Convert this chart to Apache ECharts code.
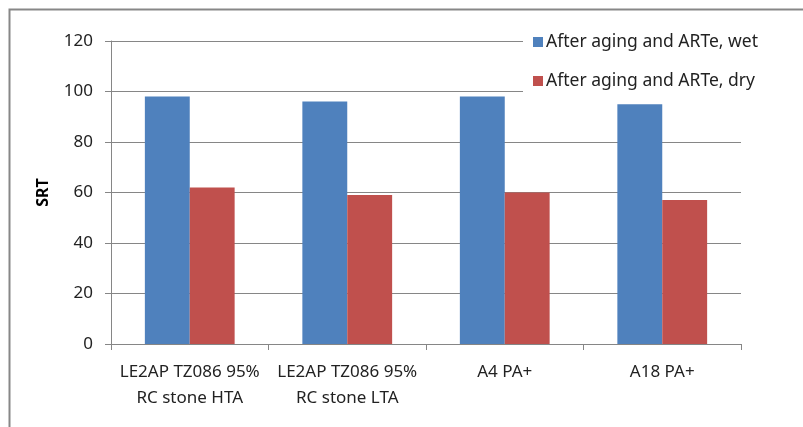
<!DOCTYPE html>
<html>
<head>
<meta charset="utf-8">
<script src="https://cdn.jsdelivr.net/npm/echarts@6/dist/echarts.min.js"></script>
<style>
  html, body { margin: 0; padding: 0; background: #fff; }
  #chart { width: 803px; height: 427px; }
</style>
</head>
<body>
<div id="chart"></div>
<script>
// 数据
const categories = ["LE2AP TZ086 95%\nRC stone HTA", "LE2AP TZ086 95%\nRC stone LTA", "A4 PA+", "A18 PA+"];
const seriesNames = ["After aging and ARTe, wet", "After aging and ARTe, dry"];
const wetValues = [98, 96, 98, 95];
const dryValues = [62, 59, 60, 57];
const yTicks = [0, 20, 40, 60, 80, 100, 120];

const font = "Noto Sans";
const chart = echarts.init(document.getElementById("chart"));

let option = {
  animation: false,
  textStyle: { fontFamily: font },
  color: ["#4F81BD", "#C0504D"],
  grid: { left: 111, right: 62, top: 41, bottom: 83 },
  legend: {
    data: seriesNames,
    orient: "vertical",
    left: 523,
    top: 25,
    itemWidth: 10,
    itemHeight: 10,
    itemGap: 21,
    padding: [8, 20, 8, 10],
    backgroundColor: "#fff",
    icon: "rect",
    textStyle: { fontFamily: font, fontSize: 17.5, color: "#222", padding: [0, 0, 0, -2] },
  },
  xAxis: {
    type: "category",
    data: categories,
    axisLine: { lineStyle: { color: "#868686" } },
    axisTick: { show: true, length: 6, lineStyle: { color: "#868686" } },
    axisLabel: { interval: 0, fontSize: 17, color: "#222", lineHeight: 26, margin: 15 },
  },
  yAxis: {
    type: "value",
    min: yTicks[0],
    max: yTicks[yTicks.length - 1],
    interval: 20,
    name: "SRT",
    nameLocation: "middle",
    nameGap: 60,
    nameTextStyle: { fontFamily: font, fontSize: 16, fontWeight: "bold", color: "#000" },
    axisLine: { show: true, lineStyle: { color: "#868686" } },
    axisTick: { show: true, length: 6, inside: false, lineStyle: { color: "#868686" } },
    axisLabel: { fontSize: 17, color: "#222", margin: 18 },
    splitLine: { lineStyle: { color: "#868686" } },
  },
  series: [
    { name: seriesNames[0], type: "bar", data: wetValues, barGap: "0%", barCategoryGap: "43%" },
    { name: seriesNames[1], type: "bar", data: dryValues },
  ],
  graphic: [
    {
      type: "rect",
      left: 7, top: 7,
      shape: { width: 820, height: 440 },
      style: { fill: "none", stroke: "#878787", lineWidth: 2 },
      silent: true,
    },
  ],
};
chart.setOption(option);
</script>
</body>
</html>
